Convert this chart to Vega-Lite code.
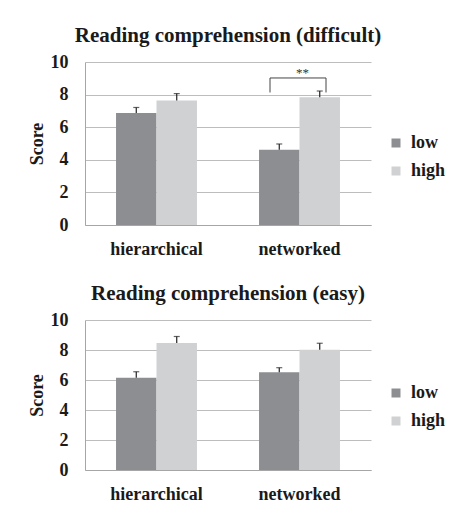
{
  "$schema": "https://vega.github.io/schema/vega-lite/v6.json",
  "background": "white",
  "padding": {"left": 28, "top": 25, "right": 0, "bottom": 0},
  "datasets": {
    "difficult": [
      {"condition": "hierarchical", "group": "low", "score": 6.87, "upper": 7.21},
      {"condition": "hierarchical", "group": "high", "score": 7.64, "upper": 8.06},
      {"condition": "networked", "group": "low", "score": 4.62, "upper": 4.97},
      {"condition": "networked", "group": "high", "score": 7.83, "upper": 8.22}
    ],
    "easy": [
      {"condition": "hierarchical", "group": "low", "score": 6.15, "upper": 6.55},
      {"condition": "hierarchical", "group": "high", "score": 8.47, "upper": 8.9},
      {"condition": "networked", "group": "low", "score": 6.51, "upper": 6.82},
      {"condition": "networked", "group": "high", "score": 8.02, "upper": 8.45}
    ],
    "bracket": [
      {"condition": "networked", "leg_bottom": 8.13, "bar_top": 9.02, "label": "**"}
    ]
  },
  "config": {
    "font": "Liberation Serif",
    "view": {"stroke": null},
    "axis": {
      "labelFont": "Liberation Serif", "labelFontWeight": "bold", "labelFontSize": 18, "labelColor": "#1a1a1a",
      "titleFont": "Liberation Serif", "titleFontWeight": "bold", "titleFontSize": 18, "titleColor": "#1a1a1a",
      "domainColor": "#a6a6a6", "gridColor": "#bdbdbd", "ticks": false, "labelOverlap": false
    },
    "title": {"font": "Liberation Serif", "fontSize": 21, "fontWeight": "bold", "color": "#1a1a1a", "baseline": "alphabetic", "offset": 7},
    "legend": {
      "labelFont": "Liberation Serif", "labelFontWeight": "bold", "labelFontSize": 18, "labelColor": "#1a1a1a",
      "symbolType": "square", "symbolSize": 81, "symbolStrokeWidth": 0, "labelOffset": 6, "rowPadding": 10, "padding": 0
    },
    "concat": {"spacing": 25}
  },
  "resolve": {"scale": {"y": "independent"}, "legend": {"color": "independent"}},
  "vconcat": [
    {
      "title": "Reading comprehension (difficult)",
      "width": 286, "height": 163,
      "encoding": {
        "x": {"field": "condition", "type": "nominal", "sort": ["hierarchical", "networked"],
              "scale": {"paddingInner": 0.434, "paddingOuter": 0.217},
              "axis": {"title": null, "labelAngle": 0, "labelPadding": 15, "grid": false}}
      },
      "layer": [
        {
          "data": {"name": "difficult"},
          "mark": {"type": "bar"},
          "encoding": {
            "xOffset": {"field": "group", "type": "nominal", "sort": ["low", "high"]},
            "y": {"field": "score", "type": "quantitative", "scale": {"domain": [0, 10], "nice": false},
                  "axis": {"title": "Score", "values": [0, 2, 4, 6, 8, 10], "labelPadding": 17, "titlePadding": 4, "grid": true}},
            "color": {"field": "group", "type": "nominal", "sort": ["low", "high"],
                      "scale": {"domain": ["low", "high"], "range": ["#8d8e92", "#d0d1d3"]},
                      "legend": {"title": null, "orient": "none", "legendX": 302, "legendY": 72}}
          }
        },
        {
          "data": {"name": "difficult"},
          "mark": {"type": "rule", "color": "#222222", "strokeWidth": 1.2},
          "encoding": {
            "xOffset": {"field": "group", "type": "nominal", "sort": ["low", "high"]},
            "y": {"field": "score", "type": "quantitative",
                  "axis": {"title": "Score", "values": [0, 2, 4, 6, 8, 10], "labelPadding": 17, "titlePadding": 4, "grid": true}},
            "y2": {"field": "upper"}
          }
        },
        {
          "data": {"name": "difficult"},
          "mark": {"type": "tick", "color": "#222222", "thickness": 1.2, "size": 6},
          "encoding": {
            "xOffset": {"field": "group", "type": "nominal", "sort": ["low", "high"]},
            "y": {"field": "upper", "type": "quantitative",
                  "axis": {"title": "Score", "values": [0, 2, 4, 6, 8, 10], "labelPadding": 17, "titlePadding": 4, "grid": true}}
          }
        },
        {
          "data": {"name": "bracket"},
          "mark": {"type": "rule", "color": "#444444", "strokeWidth": 1, "xOffset": -29.5},
          "encoding": {
            "y": {"field": "leg_bottom", "type": "quantitative",
                  "axis": {"title": "Score", "values": [0, 2, 4, 6, 8, 10], "labelPadding": 17, "titlePadding": 4, "grid": true}},
            "y2": {"field": "bar_top"}
          }
        },
        {
          "data": {"name": "bracket"},
          "mark": {"type": "rule", "color": "#444444", "strokeWidth": 1, "xOffset": 26.5},
          "encoding": {
            "y": {"field": "leg_bottom", "type": "quantitative",
                  "axis": {"title": "Score", "values": [0, 2, 4, 6, 8, 10], "labelPadding": 17, "titlePadding": 4, "grid": true}},
            "y2": {"field": "bar_top"}
          }
        },
        {
          "data": {"name": "bracket"},
          "mark": {"type": "rule", "color": "#444444", "strokeWidth": 1, "xOffset": -29.5, "x2Offset": 26.5},
          "encoding": {
            "x2": {"field": "condition"},
            "y": {"field": "bar_top", "type": "quantitative",
                  "axis": {"title": "Score", "values": [0, 2, 4, 6, 8, 10], "labelPadding": 17, "titlePadding": 4, "grid": true}}
          }
        },
        {
          "data": {"name": "bracket"},
          "mark": {"type": "text", "font": "Liberation Serif", "fontSize": 13, "color": "#333333", "baseline": "alphabetic", "dx": 3, "dy": -1},
          "encoding": {
            "y": {"field": "bar_top", "type": "quantitative",
                  "axis": {"title": "Score", "values": [0, 2, 4, 6, 8, 10], "labelPadding": 17, "titlePadding": 4, "grid": true}},
            "text": {"field": "label"}
          }
        }
      ]
    },
    {
      "title": "Reading comprehension (easy)",
      "width": 286, "height": 150,
      "encoding": {
        "x": {"field": "condition", "type": "nominal", "sort": ["hierarchical", "networked"],
              "scale": {"paddingInner": 0.434, "paddingOuter": 0.217},
              "axis": {"title": null, "labelAngle": 0, "labelPadding": 15, "grid": false}}
      },
      "layer": [
        {
          "data": {"name": "easy"},
          "mark": {"type": "bar"},
          "encoding": {
            "xOffset": {"field": "group", "type": "nominal", "sort": ["low", "high"]},
            "y": {"field": "score", "type": "quantitative", "scale": {"domain": [0, 10], "nice": false},
                  "axis": {"title": "Score", "values": [0, 2, 4, 6, 8, 10], "labelPadding": 17, "titlePadding": 4, "grid": true}},
            "color": {"field": "group", "type": "nominal", "sort": ["low", "high"],
                      "scale": {"domain": ["low", "high"], "range": ["#8d8e92", "#d0d1d3"]},
                      "legend": {"title": null, "orient": "none", "legendX": 302, "legendY": 64}}
          }
        },
        {
          "data": {"name": "easy"},
          "mark": {"type": "rule", "color": "#222222", "strokeWidth": 1.2},
          "encoding": {
            "xOffset": {"field": "group", "type": "nominal", "sort": ["low", "high"]},
            "y": {"field": "score", "type": "quantitative",
                  "axis": {"title": "Score", "values": [0, 2, 4, 6, 8, 10], "labelPadding": 17, "titlePadding": 4, "grid": true}},
            "y2": {"field": "upper"}
          }
        },
        {
          "data": {"name": "easy"},
          "mark": {"type": "tick", "color": "#222222", "thickness": 1.2, "size": 6},
          "encoding": {
            "xOffset": {"field": "group", "type": "nominal", "sort": ["low", "high"]},
            "y": {"field": "upper", "type": "quantitative",
                  "axis": {"title": "Score", "values": [0, 2, 4, 6, 8, 10], "labelPadding": 17, "titlePadding": 4, "grid": true}}
          }
        }
      ]
    }
  ]
}
